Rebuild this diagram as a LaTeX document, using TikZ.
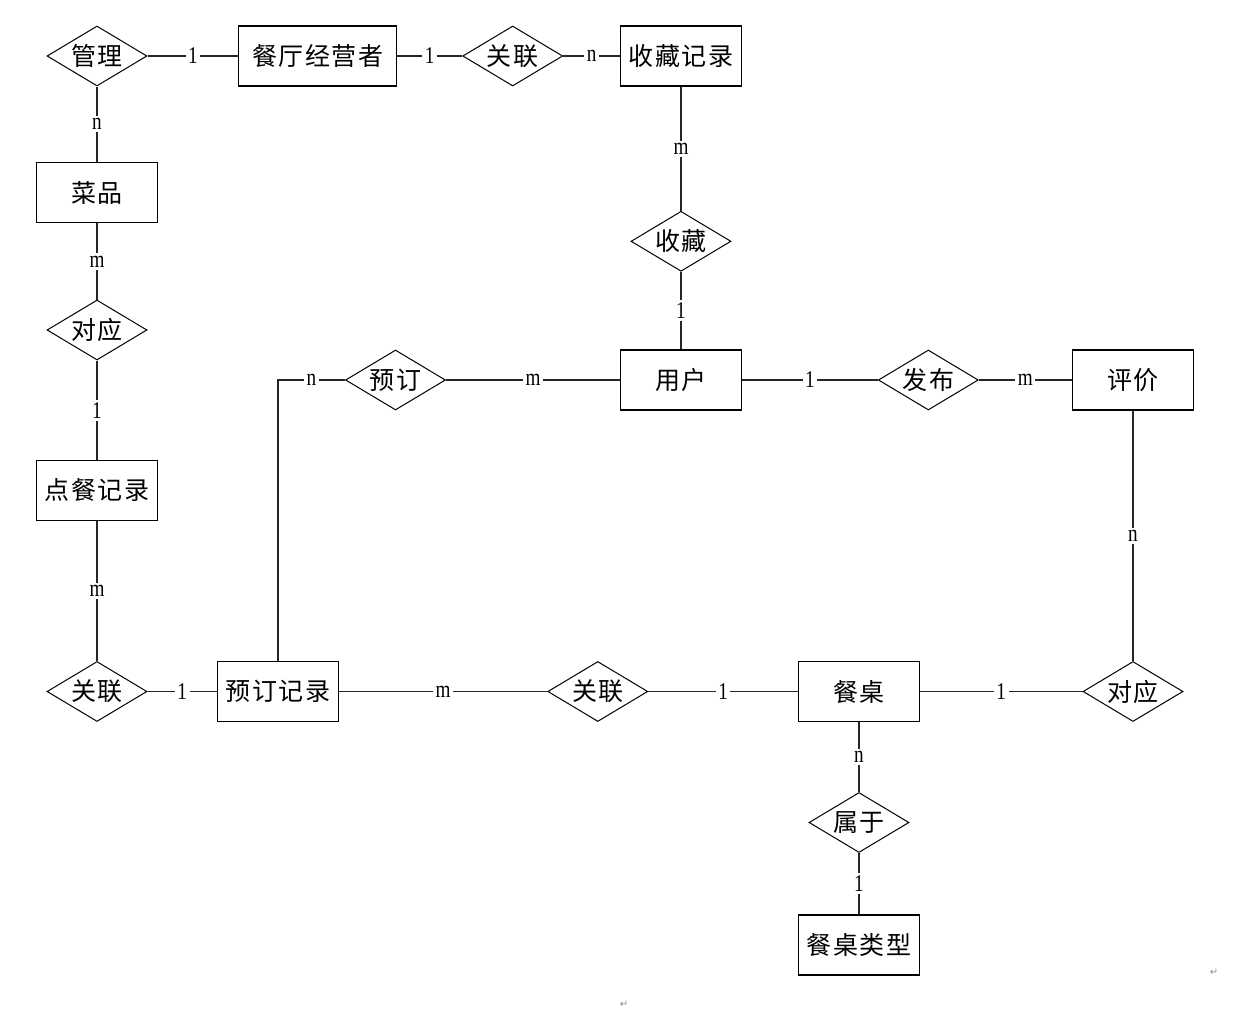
\documentclass[tikz,border=0pt]{standalone}
\usepackage{fontspec}
\usetikzlibrary{shapes.geometric}
\setmainfont{Liberation Serif}
\newfontfamily\cjk[LetterSpace=6]{Noto Sans CJK SC}
\newfontfamily\cardfont[FakeStretch=0.8]{Liberation Serif}
\newfontfamily\symfont{DejaVu Sans}
\begin{document}
\begin{tikzpicture}[x=1pt,y=-1pt,
  entity/.style={draw, line width=1.1pt, minimum width=121pt, minimum height=60pt,
    inner sep=0pt, font=\cjk\fontsize{25}{25}\selectfont},
  relation/.style={draw, diamond, aspect=1.667, line width=1pt, minimum width=100pt,
    minimum height=60pt, inner sep=0pt, font=\cjk\fontsize{25}{25}\selectfont},
  link/.style={line width=1.1pt, draw=black!85},
  card/.style={fill=white, inner sep=2.5pt, font=\cardfont\fontsize{24}{24}\selectfont},
  parmark/.style={text=black!45, font=\symfont\fontsize{10}{10}\selectfont}]
\useasboundingbox (0,0) rectangle (1240,1017);

% entities
\node[entity, minimum width=158pt] (canting) at (317.7,56) {餐厅经营者};
\node[entity] (scjl)    at (681,56)     {收藏记录};
\node[entity] (cai)     at (97,192.7)   {菜品};
\node[entity] (yonghu)  at (681,380)    {用户};
\node[entity] (pingjia) at (1133,380)   {评价};
\node[entity] (diancan) at (97,490.3)   {点餐记录};
\node[entity] (ydjl)    at (278,691.5)  {预订记录};
\node[entity] (canzhuo) at (859,691.5)  {餐桌};
\node[entity] (czlx)    at (859,945)    {餐桌类型};

% relationships
\node[relation] (guanli)  at (97,56)      {管理};
\node[relation] (gl1)     at (512.7,56)   {关联};
\node[relation] (shoucang) at (681,241.3) {收藏};
\node[relation] (dy1)     at (97,330)     {对应};
\node[relation] (yuding)  at (395.5,380)  {预订};
\node[relation] (fabu)    at (928.3,380)  {发布};
\node[relation] (gl2)     at (97,691.5)   {关联};
\node[relation] (gl3)     at (597.8,691.5) {关联};
\node[relation] (dy2)     at (1133,691.5) {对应};
\node[relation] (shuyu)   at (859,822.5)  {属于};

% connectors with cardinalities
\draw[link] (guanli) -- node[card]{1} (canting);
\draw[link] (canting) -- node[card]{1} (gl1);
\draw[link] (gl1) -- node[card]{n} (scjl);
\draw[link] (guanli) -- node[card]{n} (cai);
\draw[link] (scjl) -- node[card]{m} (shoucang);
\draw[link] (shoucang) -- node[card]{1} (yonghu);
\draw[link] (cai) -- node[card]{m} (dy1);
\draw[link] (dy1) -- node[card]{1} (diancan);
\draw[link] (diancan) -- node[card]{m} (gl2);
\draw[link] (gl2) -- node[card]{1} (ydjl);
\draw[link] (ydjl) |- node[card, pos=0.75]{n} (yuding);
\draw[link] (yuding) -- node[card]{m} (yonghu);
\draw[link] (yonghu) -- node[card]{1} (fabu);
\draw[link] (fabu) -- node[card]{m} (pingjia);
\draw[link] (pingjia) -- node[card]{n} (dy2);
\draw[link] (ydjl) -- node[card]{m} (gl3);
\draw[link] (gl3) -- node[card]{1} (canzhuo);
\draw[link] (canzhuo) -- node[card]{1} (dy2);
\draw[link] (canzhuo) -- node[card]{n} (shuyu);
\draw[link] (shuyu) -- node[card]{1} (czlx);

% paragraph marks
\node[parmark] (pm1) at (624,1004) {↵};
\node[parmark] (pm2) at (1214,972) {↵};
\end{tikzpicture}
\end{document}
